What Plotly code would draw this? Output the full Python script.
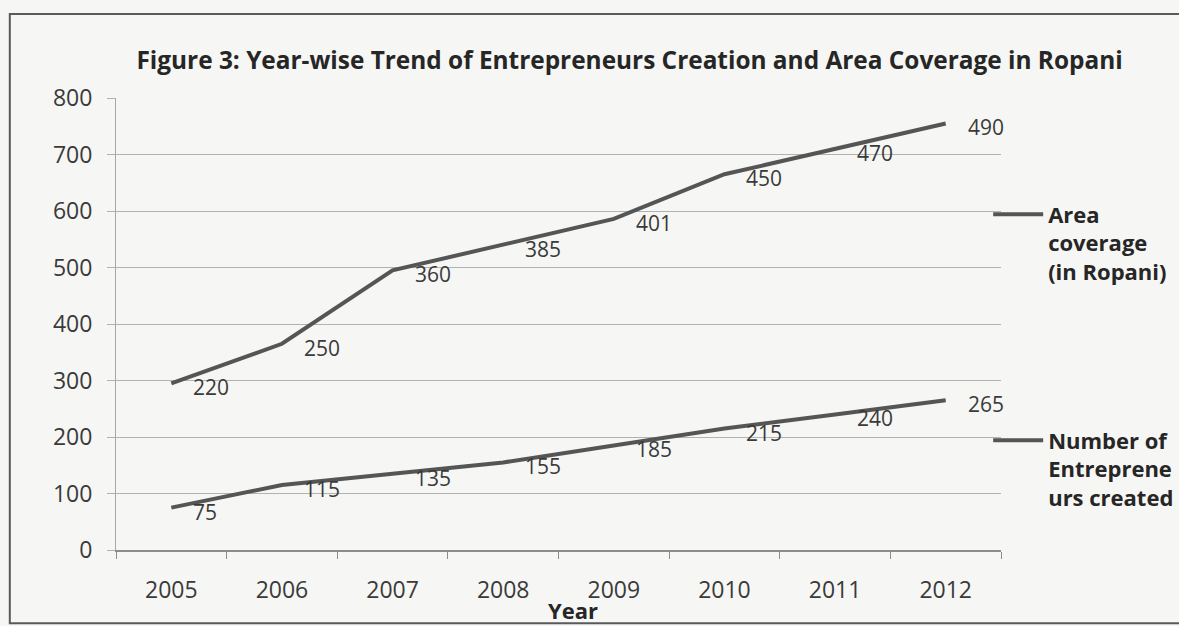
import plotly.graph_objects as go

# Year-wise entrepreneurs and area coverage (stacked line chart)
years = ["2005", "2006", "2007", "2008", "2009", "2010", "2011", "2012"]
entrepreneurs = [75, 115, 135, 155, 185, 215, 240, 265]
area_ropani = [220, 250, 360, 385, 401, 450, 470, 490]
y_ticks = [0, 100, 200, 300, 400, 500, 600, 700, 800]

title_text = "Figure 3: Year-wise Trend of Entrepreneurs Creation and Area Coverage in Ropani"
area_name = "Area<br>coverage<br>(in Ropani)"
ent_name = "Number of<br>Entreprene<br>urs created"
x_title = "Year"

FONT = "Open Sans"
LINE = "#555555"
TXT = "#3a3a3a"
DARK = "#262626"
GRID = "#b2b2b2"
AXIS = "#8c8c8c"
BG = "#f6f6f4"

fig = go.Figure()

# stacked lines: entrepreneurs at the bottom, area stacked on top
fig.add_trace(go.Scatter(
    x=years, y=entrepreneurs, name=ent_name, mode="lines",
    stackgroup="one", fill="none",
    line=dict(color=LINE, width=4),
    legend="legend2", hoverinfo="x+y",
))
fig.add_trace(go.Scatter(
    x=years, y=area_ropani, name=area_name, mode="lines",
    stackgroup="one", fill="none",
    line=dict(color=LINE, width=4),
    legend="legend", hoverinfo="x+y",
))

# value labels to the right of each point (area labels sit on the stacked line)
label_font = dict(family=FONT, size=21, color=TXT)
annotations = []
for i in range(len(years)):
    base = entrepreneurs[i]
    annotations.append(dict(
        x=i, y=base, xref="x", yref="y", text=str(entrepreneurs[i]),
        showarrow=False, xanchor="left", yanchor="middle",
        xshift=20, yshift=-4, font=label_font,
    ))
    annotations.append(dict(
        x=i, y=base + area_ropani[i], xref="x", yref="y", text=str(area_ropani[i]),
        showarrow=False, xanchor="left", yanchor="middle",
        xshift=20, yshift=-4, font=label_font,
    ))

# x-axis title
annotations.append(dict(
    x=0.516, y=-0.1704, xref="paper", yref="paper", text=x_title,
    showarrow=False, xanchor="center", yanchor="bottom",
    font=dict(family=FONT, size=22, color=DARK, weight="bold"),
))

# outer chart frame
shapes = [dict(
    type="rect", xref="paper", yref="paper",
    x0=-0.12, x1=1.25, y0=-0.162, y1=1.186,
    line=dict(color="#5a5a5a", width=2), fillcolor="rgba(0,0,0,0)", layer="below",
)]

fig.update_layout(
    width=1179, height=626,
    margin=dict(l=116, r=178, t=98, b=76, autoexpand=False),
    paper_bgcolor=BG, plot_bgcolor=BG,
    font=dict(family=FONT, size=21, color=TXT),
    title=dict(
        text=title_text, xref="container", yref="container",
        x=0.534, y=0.903, xanchor="center", yanchor="middle",
        font=dict(family=FONT, size=24.4, color=DARK, weight="bold"),
    ),
    xaxis=dict(
        type="category", range=[-0.5, 7.5], showgrid=False,
        showline=True, linecolor=AXIS, linewidth=1.5,
        ticks="outside", tickson="boundaries", ticklen=7, tickcolor=AXIS,
        tickfont=dict(family=FONT, size=23, color=TXT),
        ticklabelstandoff=19,
    ),
    yaxis=dict(
        range=[0, 800], tickvals=y_ticks, showgrid=True, gridcolor=GRID, gridwidth=1,
        showline=True, linecolor="#a8a8a8", linewidth=1,
        ticks="outside", ticklen=8, tickcolor=GRID,
        tickfont=dict(family=FONT, size=23, color=TXT),
        ticklabelstandoff=10,
        zeroline=False,
    ),
    legend=dict(
        x=0.9855, xanchor="left", y=0.789, yanchor="top", valign="top",
        bgcolor="rgba(0,0,0,0)", itemwidth=50,
        font=dict(family=FONT, size=22, color=DARK, weight="bold"),
    ),
    legend2=dict(
        x=0.9855, xanchor="left", y=0.289, yanchor="top", valign="top",
        bgcolor="rgba(0,0,0,0)", itemwidth=50,
        font=dict(family=FONT, size=22, color=DARK, weight="bold"),
    ),
    annotations=annotations,
    shapes=shapes,
    showlegend=True,
)

fig.write_html("out.html")
